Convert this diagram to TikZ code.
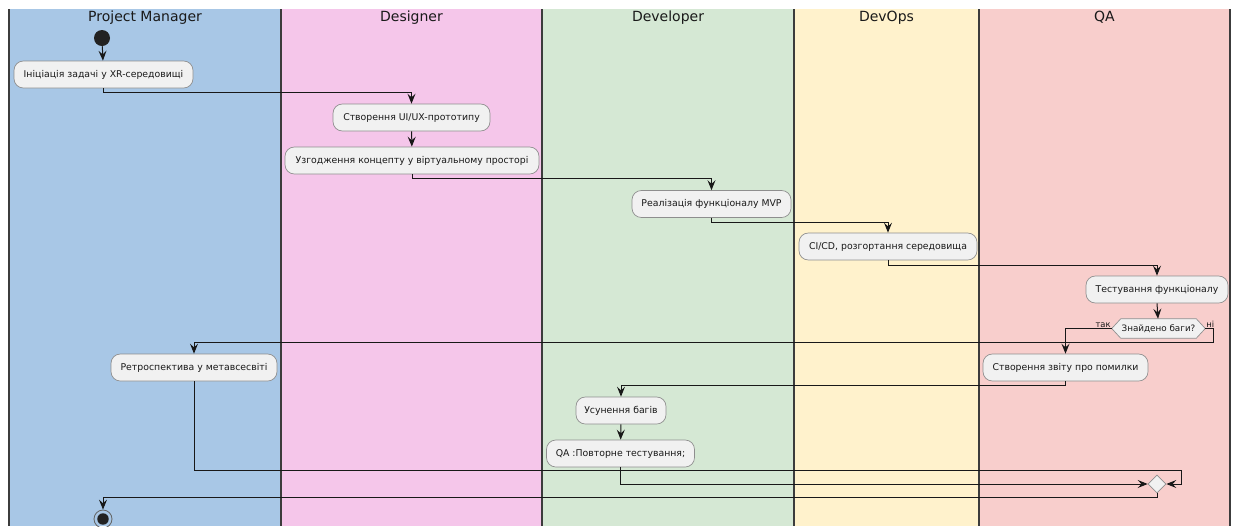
\documentclass[tikz,border=0pt]{standalone}
\usepackage{fontspec}
\setmainfont{DejaVu Sans}
\usetikzlibrary{arrows.meta,calc,shapes.geometric}

\definecolor{lanePM}{HTML}{A8C7E6}
\definecolor{laneDS}{HTML}{F5C6EA}
\definecolor{laneDV}{HTML}{D5E8D4}
\definecolor{laneDO}{HTML}{FFF2CC}
\definecolor{laneQA}{HTML}{F8CECC}
\definecolor{boxfill}{HTML}{F1F1F1}
\definecolor{boxline}{HTML}{8E8E8E}
\definecolor{flowline}{HTML}{181818}
\definecolor{sepline}{HTML}{3C3C3C}
\definecolor{dotfill}{HTML}{222222}

\tikzset{
  act/.style={draw=boxline, fill=boxfill, line width=0.5pt, rounded corners=7pt,
    minimum height=20.25pt, inner sep=0pt,
    font=\fontsize{7}{8}\selectfont, text=black!90},
  wd/.style={minimum width=#1*0.75pt},
  flow/.style={draw=flowline, line width=0.75pt,
    -{Stealth[length=7.5pt,width=6pt,inset=2.8pt]}},
  lanetitle/.style={font=\fontsize{10.5}{12}\selectfont, text=black!90},
  sep/.style={draw=sepline, line width=1.1pt},
  startdot/.style={circle, fill=dotfill, minimum size=12pt, inner sep=0pt},
  enddot/.style={circle, draw=boxline!70!black, line width=0.6pt, minimum size=13.5pt,
    inner sep=0pt,
    path picture={\fill[dotfill] (path picture bounding box.center) circle (4.3pt);}},
  hexbox/.style={minimum width=93*0.75pt, minimum height=19*0.75pt, inner sep=0pt},
  branchlbl/.style={font=\fontsize{6.3}{7}\selectfont, inner sep=0.6pt, text=black!90},
}

\begin{document}
\begin{tikzpicture}[x=0.75pt,y=-0.75pt]
\useasboundingbox (0,0) rectangle (1235,526);

% swimlanes
\fill[lanePM] (9,9) rectangle (281,526);
\fill[laneDS] (281,9) rectangle (542,526);
\fill[laneDV] (542,9) rectangle (794,526);
\fill[laneDO] (794,9) rectangle (979,526);
\fill[laneQA] (979,9) rectangle (1230,526);
\foreach \xx in {9,281,542,794,979,1230}
  \draw[sep] (\xx,9) -- (\xx,526);

\node[lanetitle] (tPM) at (145,17.5) {Project Manager};
\node[lanetitle] (tDS) at (411.5,17.5) {Designer};
\node[lanetitle] (tDV) at (668,17.5) {Developer};
\node[lanetitle] (tDO) at (886.5,17.5) {DevOps};
\node[lanetitle] (tQA) at (1104.5,17.5) {QA};

% activities
\node[startdot] (start) at (102,38) {};
\node[act, wd=179] (init)   at (103.5,74.5) {Ініціація задачі у XR-середовищі};
\node[act, wd=157] (proto)  at (411.5,117.5) {Створення UI/UX-прототипу};
\node[act, wd=254] (agree)  at (412,160.5) {Узгодження концепту у віртуальному просторі};
\node[act, wd=159] (mvp)    at (711.5,204) {Реалізація функціоналу MVP};
\node[act, wd=178] (cicd)   at (888,246.5) {CI/CD, розгортання середовища};
\node[act, wd=142] (test)   at (1157,289.5) {Тестування функціоналу};

% decision: hexagon outline around a fixed-size frame
\node[hexbox] (hex) at (1158.5,328.5) {};
\filldraw[fill=boxfill, draw=boxline, line width=0.5pt]
  (hex.west) -- ($(hex.north west)+(9,0)$) -- ($(hex.north east)+(-9,0)$) -- (hex.east)
  -- ($(hex.south east)+(-9,0)$) -- ($(hex.south west)+(9,0)$) -- cycle;
\node[hexbox, font=\fontsize{6.6}{7}\selectfont, text=black!90] (hexlbl) at (hex) {Знайдено баги?};

\node[act, wd=165] (report) at (1065.5,367.5) {Створення звіту про помилки};
\node[act, wd=166] (retro)  at (194,367.5) {Ретроспектива у метавсесвіті};
\node[act, wd=90]  (fix)    at (621,410.5) {Усунення багів};
\node[act, wd=148] (qa)     at (620.5,453.5) {QA :Повторне тестування;};

\node[diamond, draw=boxline, fill=boxfill, line width=0.5pt, inner sep=0pt,
      minimum size=18*0.75pt] (merge) at (1157,484) {};
\node[enddot] (end) at (103,519) {};

% bend points of the long return lines
\coordinate (noR) at (1213,342);
\coordinate (retR) at (1181,470);

% control flow
\draw[flow] (start) -- (init);
\draw[flow] (init.south) -- ++(0,4) -| (proto.north);
\draw[flow] (proto) -- (agree);
\draw[flow] (agree.south) -- ++(0,4) -| (mvp.north);
\draw[flow] (mvp.south) -- ++(0,5) -| (cicd.north);
\draw[flow] (cicd.south) -- ++(0,5) -| (test.north);
\draw[flow] (test.south) -- ($(hex.north)+(-0.5,0)$);
\draw[flow] (hex.west) -| (report.north);
\node[branchlbl, anchor=south east] (yes) at (hex.west) {так};
\draw[flow] (hex.east) -| (noR) -| (retro.north);
\node[branchlbl, anchor=south west] (no) at (hex.east) {ні};
\draw[flow] (report.south) -- ++(0,4.5) -| (fix.north);
\draw[flow] (fix) -- (qa);
\draw[flow] (qa.south) |- (merge.west);
\draw[flow] (retro.south) |- (retR) |- (merge.east);
\draw[flow] (merge.south) -- ++(0,4.5) -| (end.north);
\end{tikzpicture}
\end{document}
